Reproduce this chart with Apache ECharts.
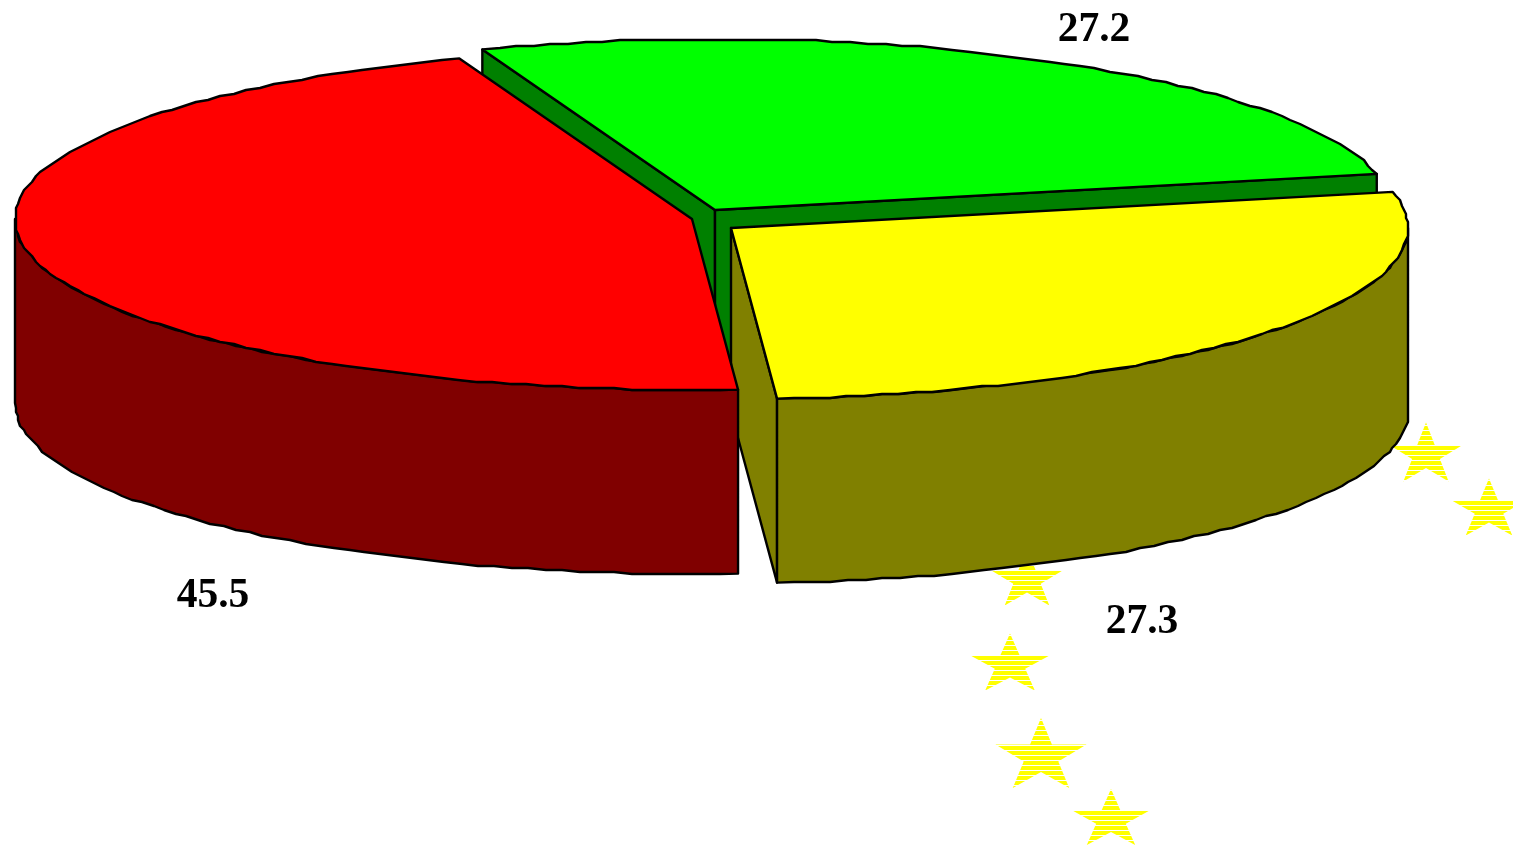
<!DOCTYPE html>
<html>
<head>
<meta charset="utf-8">
<title>Pie</title>
<style>
    html, body { margin: 0; padding: 0; background: #fff; overflow: hidden; }
    #chart-container { width: 1513px; height: 845px; }
</style>
<script src="https://cdn.jsdelivr.net/npm/echarts@6/dist/echarts.min.js"></script>
</head>
<body>
<div id="chart-container"></div>
<script>
// values, drawn clockwise from the back left
const sliceValues = [27.2, 27.3, 45.5];
const starX = [1027, 1010, 1041, 1111, 1426, 1489];
const starY = [577, 662, 753, 817, 452, 507];
const starW = [72, 80, 91, 78, 73, 75];
const starH = [57, 57, 70, 56, 59, 57];

// pie geometry, same role as center/radius of a normal pie
const START_ANGLE = -110.1;
const RX = 677;
const RY = 171;
const DEPTH = 184;
const GRID_STEP = 2; // coarse outline, the original curve is visibly wobbly
const centres = [[715, 210], [731, 228], [692, 219]];
const labelAt = [[1094, 30], [1142, 622], [213, 596]];
const topColors = ['#00ff00', '#ffff00', '#ff0000'];
const sideColors = ['#008000', '#808000', '#800000'];

const rad = d => d * Math.PI / 180;

// stripes of the stars
const stripes = document.createElement('canvas');
stripes.width = 8;
stripes.height = 5;
const stripeCtx = stripes.getContext('2d');
stripeCtx.fillStyle = '#ffff00';
stripeCtx.fillRect(0, 0, 8, 5);
stripeCtx.fillStyle = '#ffffff';
stripeCtx.fillRect(0, 0, 8, 1);

const angles = [];
let acc = START_ANGLE;
sliceValues.forEach(v => {
    const span = v / sliceValues.reduce((a, b) => a + b, 0) * 360;
    angles.push([acc, acc + span]);
    acc += span;
});

const edgePoint = (c, a) => [c[0] + RX * Math.cos(rad(a)), c[1] + RY * Math.sin(rad(a))];

// arc from a0 to a1, inner points snapped to a coarse grid
const arc = (c, a0, a1) => {
    const n = Math.max(1, Math.round((a1 - a0) / 1.5));
    const pts = [];
    for (let i = 0; i <= n; i++) {
        const p = edgePoint(c, a0 + (a1 - a0) * i / n);
        if (i === 0 || i === n) {
            pts.push(p);
        } else {
            pts.push([Math.round(p[0] / GRID_STEP) * GRID_STEP, Math.round(p[1] / GRID_STEP) * GRID_STEP]);
        }
    }
    return pts;
};

const down = p => [p[0], p[1] + DEPTH];

const renderSlice = (params, api) => {
    const i = params.dataIndex;
    const c = centres[i];
    const [a0, a1] = angles[i];
    const lineStyle = { stroke: '#000', lineWidth: 2.4, lineJoin: 'round' };
    const poly = (pts, fill) => ({
        type: 'polygon',
        shape: { points: pts.map(p => api.coord(p)) },
        style: { ...lineStyle, fill }
    });
    const children = [];
    const face = a => {
        const p = edgePoint(c, a);
        children.push(poly([c, p, down(p), down(c)], sideColors[i]));
    };
    if (Math.cos(rad(a0)) < 0) face(a0);
    if (Math.cos(rad(a1)) > 0) face(a1);
    // outer wall only on the front half
    const w0 = Math.max(a0, 0);
    const w1 = Math.min(a1, 180);
    if (w1 > w0) {
        const wall = arc(c, w0, w1);
        children.push(poly(wall.concat(wall.map(down).reverse()), sideColors[i]));
    }
    children.push(poly([c].concat(arc(c, a0, a1)), topColors[i]));
    return { type: 'group', children };
};

const renderStar = (params, api) => {
    const [cx, cy] = api.coord([api.value(0), api.value(1)]);
    const w = api.value(2);
    const h = api.value(3);
    const shape = [[50, 0], [62, 38], [100, 38], [69, 62], [81, 100], [50, 77], [19, 100], [31, 62], [0, 38], [38, 38]];
    return {
        type: 'polygon',
        shape: { points: shape.map(p => [cx + (p[0] - 50) / 100 * w, cy + (p[1] - 50) / 100 * h]) },
        style: { fill: { image: stripes, repeat: 'repeat' } }
    };
};

const renderLabel = (params, api) => {
    const [x, y] = api.coord(labelAt[params.dataIndex]);
    return {
        type: 'text',
        x,
        y,
        style: {
            text: sliceValues[params.dataIndex].toFixed(1),
            font: 'bold 41.5px "Liberation Serif"',
            fill: '#000',
            align: 'center',
            verticalAlign: 'middle'
        }
    };
};

const chart = echarts.init(document.getElementById('chart-container'));
chart.setOption({
    animation: false,
    backgroundColor: '#fff',
    grid: { left: 0, right: 0, top: 0, bottom: 0 },
    xAxis: { type: 'value', min: 0, max: 1513, show: false },
    yAxis: { type: 'value', min: 0, max: 845, inverse: true, show: false },
    series: [
        {
            type: 'custom',
            clip: false,
            silent: true,
            renderItem: renderStar,
            encode: { x: 0, y: 1 },
            data: starX.map((x, i) => [x, starY[i], starW[i], starH[i]])
        },
        {
            type: 'custom',
            clip: false,
            silent: true,
            renderItem: renderSlice,
            encode: { x: 0, y: 1 },
            data: sliceValues.map((v, i) => [centres[i][0], centres[i][1], v])
        },
        {
            type: 'custom',
            clip: false,
            silent: true,
            renderItem: renderLabel,
            encode: { x: 0, y: 1 },
            data: sliceValues.map((v, i) => [labelAt[i][0], labelAt[i][1], v])
        }
    ]
});
</script>
</body>
</html>
